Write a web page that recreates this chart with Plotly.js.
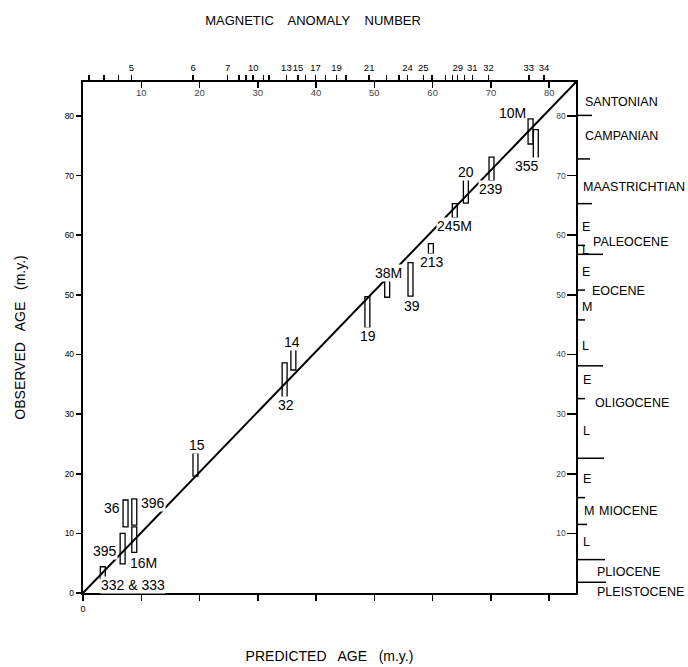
<!DOCTYPE html>
<html><head><meta charset="utf-8">
<script src="https://cdn.plot.ly/plotly-3.0.1.min.js"></script>
<style>html,body{margin:0;padding:0;background:#fff;}#chart{width:688px;height:667px;}</style>
</head><body><div id="chart"></div>
<script>
// ---- data ----
const siteLabels   = ['332 & 333','395','36','396','16M','15','32','14','19','38M','39','213','245M','20','239','10M','355'];
const predictedAge = [3.4, 6.8, 7.3, 8.8, 8.8, 19.3, 34.6, 36.1, 48.8, 52.2, 56.2, 59.7, 63.8, 65.7, 70.1, 76.8, 77.7];
const observedLow  = [2.4, 4.9, 11.1, 11.4, 6.8, 19.6, 32.8, 37.4, 44.4, 49.6, 49.8, 56.9, 62.9, 65.4, 69.1, 75.3, 72.8];
const observedHigh = [4.4, 10.0, 15.6, 15.8, 11.1, 23.5, 38.6, 41.3, 49.7, 52.4, 55.4, 58.6, 65.3, 69.5, 73.1, 79.5, 77.7];

const lineX = [0, 84.6];
const lineY = [0, 85.7];

const ageTicks = [0, 10, 20, 30, 40, 50, 60, 70, 80];
const anomalyAge   = [1.0, 3.6, 6.1, 8.3, 18.9, 24.8, 26.8, 28.0, 29.2, 31.0, 31.9, 34.9, 36.9, 38.2, 39.9, 41.6, 43.5, 45.1, 49.1, 52.1, 54.2, 55.7, 58.4, 59.9, 62.2, 63.4, 64.3, 65.5, 66.8, 69.6, 76.5, 79.1];
const anomalyLabel = ['', '', '', '5', '6', '7', '', '', '10', '', '', '13', '15', '', '17', '', '19', '', '21', '', '', '24', '25', '', '', '', '29', '', '31', '32', '33', '34'];

const stageBoundaryAge = [80.1, 72.8, 65.3, 58.3, 56.8, 50.8, 45.8, 38.1, 32.6, 22.6, 16.0, 11.5, 5.6, 1.8];
const stageNames = ['SANTONIAN','CAMPANIAN','MAASTRICHTIAN','E','PALEOCENE','L','E','EOCENE','M','L','E','OLIGOCENE','L','E','M','MIOCENE','L','PLIOCENE','PLEISTOCENE'];
const stageNameAge = [82.3, 76.6, 68.1, 61.4, 58.9, 57.5, 53.9, 50.7, 48.0, 41.5, 35.7, 31.8, 27.2, 19.2, 13.8, 13.8, 8.6, 3.6, 0.1];

// ---- layout helpers (positions / styles) ----
const labelPos = [[8.5,1.3],[3.8,7.0],[5.0,14.2],[12.0,15.1],[10.3,5.1],[19.5,24.9],[34.9,31.5],[35.9,42.1],[48.9,43.1],[52.4,53.6],[56.4,48.1],[59.9,55.5],[63.7,61.5],[65.7,70.6],[70.0,67.7],[73.7,80.5],[76.2,71.6]];
const boundaryLen = [16, 14, 16, 9, 27, 9, 9, 27, 9, 28, 9, 11, 29, 30];
const stageShift = [7, 7, 5, 4, 15, 4, 4, 14, 4, 4, 5, 17, 5, 5, 6, 21, 5, 19, 19];

const FONT = 'Liberation Sans, Arial, sans-serif';
const xRange = [0, 84.6], yRange = [0, 85.7];

const traces = [
  {type:'scatter', mode:'lines', x:lineX, y:lineY, line:{color:'black', width:2}, hoverinfo:'skip', cliponaxis:false},
  {type:'bar', x:predictedAge, base:observedLow, y:observedHigh.map((h,i)=>h-observedLow[i]),
   width:0.85, marker:{color:'white', line:{color:'black', width:1.3}}, hoverinfo:'skip'},
  {type:'scatter', x:[null], y:[null], xaxis:'x2', yaxis:'y', hoverinfo:'skip'},
  {type:'scatter', x:[null], y:[null], xaxis:'x3', yaxis:'y', hoverinfo:'skip'},
  {type:'scatter', x:[null], y:[null], xaxis:'x', yaxis:'y2', hoverinfo:'skip'}
];

const annotations = siteLabels.map((t,i)=>({
  text:t, x:labelPos[i][0], y:labelPos[i][1], xref:'x', yref:'y', showarrow:false,
  font:{family:FONT, size:14, color:'black'}, bgcolor:'white', borderpad:0
}));
stageNames.forEach((t,i)=>annotations.push({
  text:t, x:1, xref:'paper', y:stageNameAge[i], yref:'y', xanchor:'left', xshift:stageShift[i],
  showarrow:false, font:{family:FONT, size:12.5, color:'black'}
}));

const shapes = stageBoundaryAge.map((a,i)=>({
  type:'line', xref:'paper', xsizemode:'pixel', xanchor:1, x0:0, x1:boundaryLen[i],
  yref:'y', y0:a, y1:a, line:{color:'black', width:1.5}
}));

const layout = {
  width:688, height:667, showlegend:false, barmode:'overlay',
  paper_bgcolor:'white', plot_bgcolor:'white',
  margin:{l:83, r:112, t:82, b:74},
  font:{family:FONT, color:'black'},
  title:{text:'MAGNETIC\u00a0\u00a0\u00a0 ANOMALY\u00a0\u00a0\u00a0 NUMBER', font:{family:FONT, size:13, color:'black'},
         x:0.455, xref:'container', xanchor:'center', y:1-20/667, yref:'container', yanchor:'middle'},
  xaxis:{range:xRange, showgrid:false, zeroline:false, showline:true, linewidth:2.2, linecolor:'black',
         ticks:'outside', ticklen:6, tickwidth:1.5, tickcolor:'black', tickvals:ageTicks,
         ticktext:ageTicks.map(v=>v===0?'0':''), tickfont:{size:9},
         title:{text:'PREDICTED\u00a0\u00a0 AGE\u00a0\u00a0 (m.y.)', font:{size:14}, standoff:38}},
  xaxis2:{overlaying:'x', side:'top', anchor:'y', range:xRange, showgrid:false, zeroline:false,
          showline:true, linewidth:2.2, linecolor:'black', ticks:'outside', ticklen:5, tickwidth:1.5,
          tickcolor:'black', tickvals:anomalyAge, ticktext:anomalyLabel, tickfont:{size:9.5}, tickangle:0},
  xaxis3:{overlaying:'x', side:'top', anchor:'y', range:xRange, showgrid:false, zeroline:false,
          showline:false, ticks:'inside', ticklen:6, tickwidth:1.5, tickcolor:'black',
          ticklabelposition:'inside', tickvals:ageTicks.slice(1), ticktext:ageTicks.slice(1).map(String),
          tickfont:{size:9.5}, tickangle:0},
  yaxis:{range:yRange, showgrid:false, zeroline:false, showline:true, linewidth:2.2, linecolor:'black',
         ticks:'outside', ticklen:5, tickwidth:1.5, tickcolor:'black', tickvals:ageTicks,
         ticktext:ageTicks.map(String), tickfont:{size:8.5},
         title:{text:'OBSERVED\u00a0\u00a0 AGE\u00a0\u00a0 (m.y.)', font:{size:14}, standoff:36}},
  yaxis2:{overlaying:'y', side:'right', anchor:'x', range:yRange, showgrid:false, zeroline:false,
          showline:true, linewidth:2.2, linecolor:'black', ticks:'inside', ticklen:9, tickwidth:1.5,
          tickcolor:'black', ticklabelposition:'inside', tickvals:ageTicks.slice(1),
          ticktext:ageTicks.slice(1).map(String), tickfont:{size:8.5}},
  annotations:annotations, shapes:shapes
};

Plotly.newPlot('chart', traces, layout, {displayModeBar:false, staticPlot:true});
</script></body></html>
